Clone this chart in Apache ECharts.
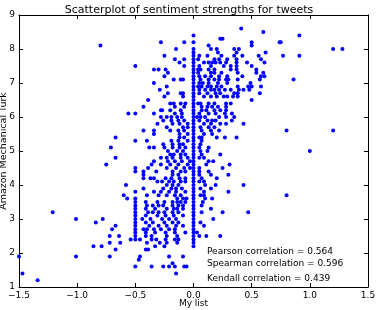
<!DOCTYPE html>
<html>
<head>
<meta charset="utf-8">
<script src="https://cdn.jsdelivr.net/npm/echarts@6/dist/echarts.min.js"></script>
<style>html,body{margin:0;padding:0;background:#fff}#c{width:378px;height:310px}</style>
</head>
<body>
<div id="c"></div>
<script>
// Amazon Mechanical Turk rating levels (y) and "My list" values (x) read at each level
const levelsUpper = [8.6, 8.5, 8.4, 8.3, 8.2, 8.1, 8.0, 7.9, 7.8, 7.7, 7.6, 7.5, 7.4, 7.3, 7.2, 7.1, 7.0, 6.9, 6.8, 6.7, 6.6, 6.5, 6.4];
const myListUpper = [
  [0.41],
  [0.60],
  [0.00, 0.91],
  [0.23, 0.25],
  [-0.28, -0.08, 0.00, 0.50, 0.74, 0.75],
  [-0.80, 0.13, 0.50],
  [-0.15, 0.00, 0.15, 0.20, 0.35, 0.39, 1.20, 1.28],
  [0.00, 0.21, 0.37, 0.62],
  [-0.25, 0.00, 0.05, 0.12, 0.24, 0.35, 0.42, 0.56, 0.77, 0.91],
  [-0.16, -0.08, 0.00, 0.04, 0.18, 0.22, 0.29, 0.37, 0.58],
  [-0.12, 0.00, 0.09, 0.13, 0.16, 0.19, 0.23, 0.28, 0.37, 0.46, 0.61],
  [-0.50, -0.08, 0.00, 0.05, 0.15, 0.26, 0.32, 0.37, 0.50],
  [-0.34, -0.30, -0.24, 0.00, 0.04, 0.06, 0.13, 0.18, 0.32, 0.37, 0.54],
  [-0.22, 0.00, 0.04, 0.15, 0.18, 0.24, 0.38, 0.54, 0.60],
  [-0.25, 0.00, 0.05, 0.10, 0.15, 0.22, 0.29, 0.42, 0.58, 0.61],
  [-0.17, -0.11, -0.09, 0.00, 0.06, 0.13, 0.18, 0.22, 0.28, 0.30, 0.38, 0.57, 0.86],
  [-0.34, 0.00, 0.05, 0.08, 0.13, 0.21, 0.29, 0.49],
  [-0.23, 0.00, 0.04, 0.07, 0.12, 0.15, 0.20, 0.24, 0.38, 0.47, 0.50, 0.58],
  [-0.29, 0.00, 0.05, 0.10, 0.15, 0.18, 0.22, 0.27, 0.32, 0.39, 0.43, 0.48],
  [-0.22, -0.11, -0.09, 0.00, 0.05, 0.12, 0.19, 0.23, 0.35, 0.38, 0.57],
  [-0.25, -0.09, 0.00, 0.09, 0.15, 0.20, 0.26, 0.29, 0.34, 0.38],
  [-0.39, 0.00, 0.50],
  [-0.20, -0.17, -0.11, -0.07, 0.00, 0.04, 0.06, 0.13, 0.18, 0.28, 0.32]
];
const levelsMiddle = [6.3, 6.2, 6.1, 6.0, 5.9, 5.8, 5.7, 5.6, 5.5, 5.4, 5.3, 5.2, 5.1, 5.0, 4.9, 4.8, 4.7, 4.6, 4.5, 4.4, 4.3, 4.2, 4.1, 4.0, 3.9, 3.8, 3.7];
const myListMiddle = [
  [-0.43, -0.16, -0.08, 0.00, 0.07, 0.12, 0.16, 0.21, 0.28],
  [-0.28, -0.27, -0.20, -0.11, 0.00, 0.07, 0.11, 0.18, 0.23, 0.28],
  [-0.56, -0.50, -0.34, -0.16, -0.10, 0.00, 0.05, 0.13, 0.19, 0.27, 0.33],
  [-0.28, -0.23, -0.19, -0.14, -0.10, 0.00, 0.03, 0.06, 0.10, 0.22, 0.28, 0.35],
  [-0.26, -0.19, -0.13, -0.08, 0.00, 0.05, 0.12, 0.16, 0.19, 0.33],
  [-0.31, -0.18, -0.12, -0.05, 0.00, 0.09, 0.15, 0.23, 0.28, 0.43],
  [-0.23, -0.09, -0.05, 0.00, 0.06, 0.13, 0.18],
  [-0.43, -0.34, -0.20, -0.13, -0.08, 0.00, 0.07, 0.15, 0.22, 0.80, 1.20],
  [-0.34, -0.12, -0.05, 0.00, 0.09, 0.16],
  [-0.67, -0.12, -0.08, 0.00, 0.05, 0.07, 0.20, 0.27, 0.37],
  [-0.50, -0.40, -0.19, -0.13, -0.05, 0.00, 0.07],
  [-0.26, -0.18, -0.12, -0.09, 0.00, 0.06],
  [-0.71, -0.38, -0.34, -0.25, -0.18, -0.12, -0.07, 0.00, 0.05, 0.13],
  [-0.22, -0.14, -0.09, 0.00, 0.06, 0.12, 1.00],
  [-0.20, -0.17, -0.11, -0.07, 0.00, 0.07, 0.23],
  [-0.67, -0.28, -0.23, -0.18, -0.11, -0.05, 0.00, 0.05, 0.09],
  [-0.34, -0.22, -0.16, -0.10, -0.03, 0.00, 0.13, 0.17],
  [-0.75, -0.36, -0.28, -0.20, -0.13, -0.05, 0.00, 0.11, 0.31],
  [-0.50, -0.39, -0.23, -0.15, -0.08, -0.03, 0.00, 0.05, 0.25],
  [-0.50, -0.43, -0.32, -0.18, -0.11, -0.07, 0.00, 0.05, 0.13],
  [-0.43, -0.18, -0.13, 0.00, 0.05, 0.15, 0.30],
  [-0.43, -0.37, -0.34, -0.24, -0.19, -0.12, -0.07, 0.00, 0.07, 0.20],
  [-0.31, -0.27, -0.21, -0.17, -0.11, -0.07, 0.00, 0.05, 0.09],
  [-0.58, -0.23, -0.18, -0.13, 0.00, 0.10, 0.19, 0.43],
  [-0.43, -0.26, -0.19, -0.15, -0.10, 0.00, 0.06, 0.15],
  [-0.50, -0.34, -0.28, -0.21, -0.15, -0.07, 0.00, 0.09, 0.30],
  [-0.60, -0.40, -0.30, -0.23, -0.16, -0.11, 0.00, 0.06, 0.09, 0.80]
];
const levelsLower = [3.6, 3.5, 3.4, 3.3, 3.2, 3.1, 3.0, 2.9, 2.8, 2.7, 2.6, 2.5, 2.4, 2.3, 2.2, 2.1, 1.9, 1.8, 1.7, 1.6, 1.4, 1.2];
const myListLower = [
  [-0.57, -0.50, -0.14, -0.09, -0.06, 0.00, 0.10, 0.16],
  [-0.50, -0.41, -0.31, -0.25, -0.18, -0.14, -0.11, -0.07, 0.00, 0.08],
  [-0.50, -0.40, -0.35, -0.30, -0.26, -0.18, -0.13, -0.09, 0.00, 0.07],
  [-0.50, -0.41, -0.33, -0.23, -0.17, -0.14, -0.09, 0.00, 0.15],
  [-1.21, -0.50, -0.39, -0.35, -0.30, -0.25, -0.18, -0.13, 0.00, 0.07, 0.25, 0.47],
  [-0.50, -0.41, -0.31, -0.24, -0.17, -0.09, 0.00],
  [-1.01, -0.78, -0.50, -0.44, -0.37, -0.27, -0.21, -0.15, 0.00, 0.17],
  [-0.84, -0.50, -0.41, -0.35, -0.25, -0.18, -0.13, 0.00, 0.06],
  [-0.67, -0.50, -0.38, -0.30, -0.23, -0.15, -0.09, 0.00, 0.09],
  [-0.70, -0.50, -0.43, -0.40, -0.34, -0.28, -0.21, -0.16, 0.00],
  [-0.50, -0.41, -0.33, -0.24, -0.16, -0.07, 0.00, 0.03],
  [-0.72, -0.64, -0.50, -0.41, -0.36, -0.23, -0.14, 0.00, 0.05, 0.11, 0.23],
  [-0.54, -0.50, -0.46, -0.36, -0.32, -0.24, -0.16, -0.13, 0.00],
  [-0.72, -0.63, -0.40, -0.29, -0.23, -0.14, 0.00],
  [-0.86, -0.79, -0.33, -0.25, 0.00],
  [-0.67, -0.41, -0.39],
  [-1.50, -1.01, -0.72, -0.46, -0.21, -0.09],
  [-0.47],
  [-0.18],
  [-0.50, -0.36, -0.26, -0.21, -0.16, -0.08, -0.06],
  [-1.47, -0.15],
  [-1.34]
];
const correlationLines = [
  'Pearson correlation = 0.564',
  'Spearman correlation = 0.596',
  'Kendall correlation = 0.439'
];

function pairs(levels, xsRows) {
  const out = [];
  levels.forEach((y, i) => xsRows[i].forEach(x => out.push([x, y])));
  return out;
}
const points = [].concat(
  pairs(levelsUpper, myListUpper),
  pairs(levelsMiddle, myListMiddle),
  pairs(levelsLower, myListLower)
);

const FONT = 'DejaVu Sans';
const chart = echarts.init(document.getElementById('c'), null, {renderer: 'canvas'});
const fmtX = v => (v < 0 ? '\u2212' : '') + Math.abs(v).toFixed(1);
const axisCommon = {
  nameMoveOverlap: false,
  axisLine: {show: true, onZero: false, lineStyle: {color: '#000', width: 1}},
  axisTick: {show: true, inside: true, length: 4, lineStyle: {color: '#000'}},
  splitLine: {show: false}
};
chart.setOption({
  animation: false,
  backgroundColor: '#fff',
  title: {
    text: 'Scatterplot of sentiment strengths for tweets',
    left: 'center', top: 0,
    textStyle: {fontFamily: FONT, fontSize: 11, fontWeight: 'normal', color: '#000'}
  },
  grid: {left: 19, right: 10, top: 15, bottom: 23, containLabel: false, outerBoundsMode: 'none'},
  xAxis: [
    Object.assign({
      type: 'value', min: -1.5, max: 1.5, interval: 0.5, position: 'bottom',
      name: 'My list', nameLocation: 'middle', nameGap: 12,
      nameTextStyle: {fontFamily: FONT, fontSize: 9, color: '#000'},
      axisLabel: {formatter: fmtX, fontFamily: FONT, fontSize: 9, color: '#000', margin: 4}
    }, axisCommon),
    Object.assign({
      type: 'value', min: -1.5, max: 1.5, interval: 0.5, position: 'top',
      axisLabel: {show: false}
    }, axisCommon)
  ],
  yAxis: [
    Object.assign({
      type: 'value', min: 1, max: 9, interval: 1, position: 'left',
      name: 'Amazon Mechanical Turk', nameLocation: 'middle', nameGap: 10, nameRotate: 90,
      nameTextStyle: {fontFamily: FONT, fontSize: 9.5, color: '#000'},
      axisLabel: {fontFamily: FONT, fontSize: 9, color: '#000', margin: 4}
    }, axisCommon),
    Object.assign({
      type: 'value', min: 1, max: 9, interval: 1, position: 'right',
      axisLabel: {show: false}
    }, axisCommon)
  ],
  series: [{
    type: 'scatter',
    xAxisIndex: 0, yAxisIndex: 0,
    symbol: 'circle', symbolSize: 4,
    itemStyle: {color: '#0000ff', opacity: 1},
    data: points
  }],
  graphic: correlationLines.map((t, i) => ({
    type: 'text', left: 207, top: [247, 259.5, 274][i],
    style: {text: t, fontFamily: FONT, fontSize: 9, fill: '#000'}
  }))
});
</script>
</body>
</html>
